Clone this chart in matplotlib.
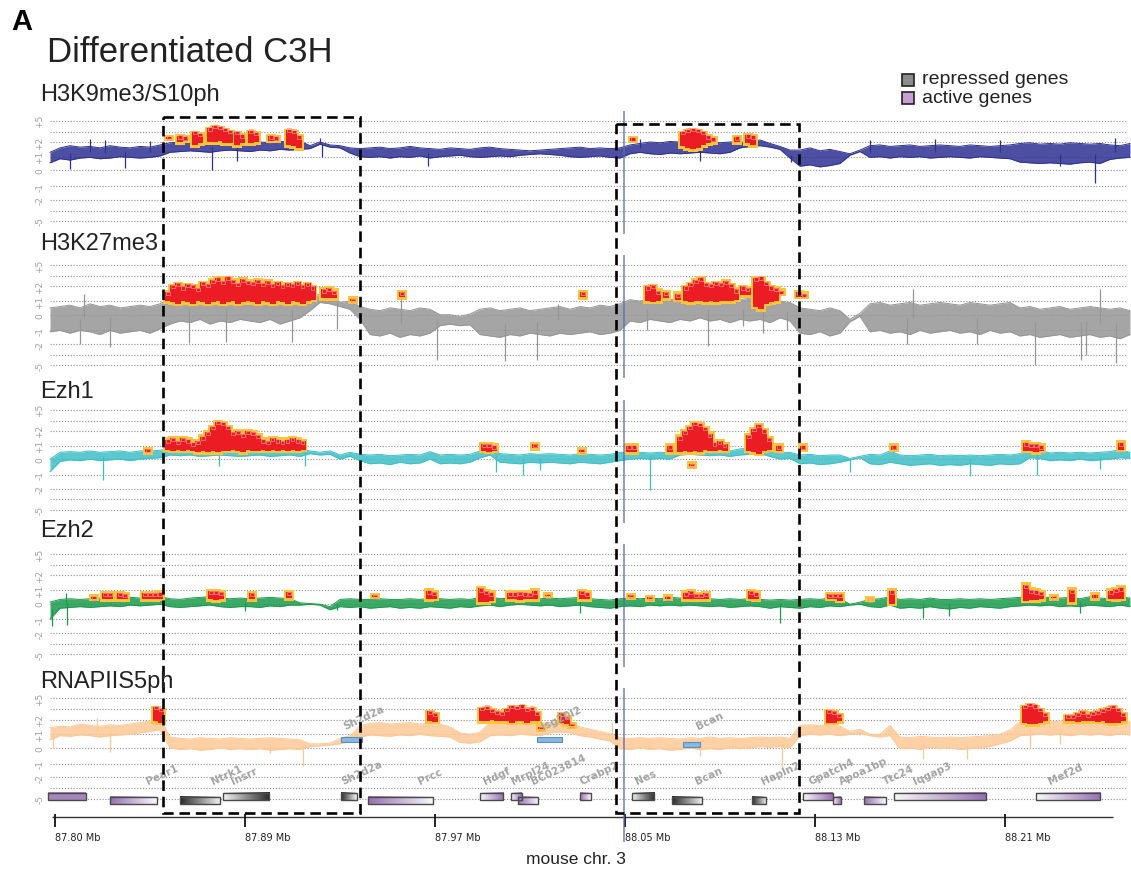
import numpy as np
import matplotlib
matplotlib.use("Agg")
import matplotlib.pyplot as plt
import matplotlib.colors as mcolors
from matplotlib.patches import Rectangle

# ---------------- data ----------------
TRACK_NAMES = ["H3K9me3/S10ph", "H3K27me3", "Ezh1", "Ezh2", "RNAPIIS5ph"]
TRACK_COLORS = ["#2e3192", "#969696", "#3dbfc6", "#1a9a4b", "#fdc896"]

# signal envelope (low / high) per 4.2 kb bin, kb from the 87.80 Mb tick
GRID_KB = np.linspace(-2.1, 452.6, 109)

K9_LO = [0.55, 0.85, 0.75, 0.9, 0.95, 0.85, 0.9, 1.0, 0.95, 0.9,
         0.95, 1.05, 1.3, 1.35, 1.4, 1.35, 1.3, 1.4, 1.45, 1.4,
         1.35, 1.45, 1.4, 1.5, 1.45, 1.5, 1.55, 1.85, 1.65, 1.6,
         1.25, 1.0, 0.95, 1.0, 0.9, 1.0, 0.95, 1.05, 0.9, 1.0,
         1.05, 1.1, 1.0, 0.95, 1.0, 1.05, 1.0, 1.1, 1.15, 1.2,
         1.15, 1.1, 1.0, 0.95, 1.0, 1.05, 0.95, 0.9, 1.2, 1.3,
         1.2, 1.15, 1.25, 1.2, 1.25, 1.3, 1.25, 1.2, 1.3, 1.6,
         1.7, 1.75, 1.65, 1.5, 0.9, 0.3, 0.4, 0.25, 0.35, 0.5,
         1.1, 1.35, 0.95, 1.0, 0.9, 1.0, 0.95, 1.0, 0.9, 0.95,
         1.0, 0.95, 0.9, 1.0, 0.95, 0.9, 0.85, 0.6, 0.55, 0.5,
         0.55, 0.5, 0.45, 0.55, 0.6, 0.5, 0.8, 0.9, 0.95]
K9_HI = [1.3, 1.6, 1.75, 1.65, 1.7, 1.6, 1.75, 1.65, 1.6, 1.7,
         1.65, 1.8, 1.95, 2.0, 2.05, 2.1, 2.0, 2.05, 2.1, 2.0,
         2.05, 2.0, 1.95, 2.05, 2.0, 2.1, 1.75, 2.0, 1.8, 1.75,
         1.6, 1.55, 1.6, 1.65, 1.55, 1.6, 1.7, 1.6, 1.55, 1.5,
         1.6, 1.55, 1.5, 1.6, 1.65, 1.55, 1.5, 1.45, 1.4, 1.45,
         1.5, 1.55, 1.6, 1.65, 1.55, 1.6, 1.55, 1.6, 1.8, 1.9,
         2.0, 1.95, 2.05, 2.0, 2.1, 2.0, 2.05, 1.95, 2.0, 2.0,
         1.95, 2.2, 1.9, 1.7, 1.45, 1.45, 1.6, 1.4, 1.5, 1.35,
         1.2, 1.45, 1.75, 1.8, 1.7, 1.75, 1.8, 1.7, 1.75, 1.8,
         1.75, 1.7, 1.8, 1.75, 1.7, 1.75, 1.8, 1.9, 1.95, 1.85,
         1.9, 1.85, 1.95, 1.9, 1.85, 1.9, 1.8, 1.75, 1.9]

K27_LO = [-1.1, -1.0, -1.2, -1.0, -1.1, -1.3, -1.0, -1.2, -1.1, -1.0,
          -1.2, -0.9, -0.6, -0.4, -0.5, -0.3, -0.6, -0.4, -0.5, -0.3,
          -0.4, -0.5, -0.3, -0.6, -0.4, -0.2, 0.3, 0.9, 0.8, 0.6,
          0.4, -0.3, -1.3, -1.4, -1.2, -1.5, -1.3, -1.4, -1.2, -0.7,
          -0.6, -0.7, -0.65, -1.3, -1.4, -1.5, -1.3, -1.4, -1.2, -1.3,
          -1.4, -1.2, -1.3, -1.2, -1.1, -1.3, -1.2, -1.0, -0.4, -0.5,
          -0.3, -0.4, -0.5, -0.3, -0.4, -0.2, -0.4, -0.3, -0.5, -0.3,
          -0.4, -0.3, -0.5, -0.2, -0.4, -1.2, -1.3, -1.1, -1.4, -1.2,
          -0.45, -0.1, -1.1, -1.0, -1.2, -1.1, -1.3, -1.0, -1.2, -1.1,
          -1.0, -1.2, -1.1, -1.3, -1.0, -1.2, -1.1, -1.4, -1.3, -1.5,
          -1.4, -1.3, -1.5, -1.4, -1.3, -1.5, -1.4, -1.6, -1.3]
K27_HI = [0.5, 0.6, 0.7, 0.5, 0.8, 0.6, 0.7, 0.5, 0.6, 0.7,
          0.6, 0.8, 1.2, 1.1, 1.3, 1.2, 1.1, 1.3, 1.2, 1.1,
          1.2, 1.3, 1.1, 1.2, 1.0, 1.1, 1.2, 1.5, 1.3, 0.9,
          1.0, 0.6, 0.4, 0.3, 0.5, 0.4, 0.3, 0.5, 0.4, 0.0,
          0.0, -0.1, 0.05, 0.4, 0.5, 0.3, 0.4, 0.5, 0.3, 0.4,
          0.5, 0.6, 0.4, 0.6, 0.5, 0.7, 0.6, 0.8, 1.1, 1.0,
          1.2, 1.0, 1.1, 1.2, 1.1, 1.0, 1.2, 1.1, 1.0, 1.1,
          1.2, 1.0, 1.1, 1.0, 0.9, 0.5, 0.4, 0.3, 0.5, 0.3,
          -0.3, 0.1, 0.8, 0.9, 0.7, 0.8, 0.9, 0.7, 0.8, 0.9,
          0.8, 0.7, 0.9, 0.8, 0.7, 0.8, 0.9, 0.5, 0.6, 0.4,
          0.5, 0.6, 0.4, 0.5, 0.6, 0.5, 0.4, 0.5, 0.3]

EZH1_LO = [-0.8, -0.15, -0.05, -0.1, 0.0, -0.1, -0.05, 0.0, -0.1, 0.0,
           0.05, 0.1, 0.3, 0.25, 0.3, 0.2, 0.25, 0.3, 0.25, 0.2,
           0.25, 0.3, 0.2, 0.25, 0.3, 0.2, 0.4, 0.3, 0.35, 0.0,
           0.2, -0.1, -0.3, -0.25, -0.35, -0.2, -0.3, -0.25, 0.0, -0.3,
           -0.25, -0.3, -0.2, 0.1, 0.3, -0.2, -0.25, -0.3, -0.2, -0.25,
           -0.2, -0.25, -0.3, -0.2, -0.25, -0.3, -0.2, -0.1, 0.0, 0.05,
           0.0, 0.05, 0.0, 0.3, 0.35, 0.3, 0.25, 0.3, 0.2, 0.3,
           0.35, 0.4, 0.2, 0.0, 0.05, -0.3, -0.25, -0.35, -0.3, -0.2,
           -0.05, 0.1, -0.3, -0.35, -0.2, -0.3, -0.4, -0.35, -0.3, -0.4,
           -0.35, -0.4, -0.3, -0.35, -0.4, -0.3, -0.35, -0.3, 0.1, 0.05,
           -0.1, -0.05, -0.1, 0.0, -0.1, -0.05, 0.0, 0.1, 0.05]
EZH1_HI = [0.0, 0.5, 0.55, 0.5, 0.6, 0.5, 0.55, 0.6, 0.5, 0.6,
           0.6, 0.65, 0.75, 0.7, 0.8, 0.75, 0.7, 0.75, 0.8, 0.7,
           0.75, 0.7, 0.8, 0.75, 0.7, 0.75, 0.6, 0.5, 0.6, 0.3,
           0.5, 0.35, 0.3, 0.35, 0.25, 0.3, 0.35, 0.3, 0.55, 0.3,
           0.35, 0.3, 0.35, 0.6, 0.9, 0.4, 0.35, 0.3, 0.4, 0.35,
           0.4, 0.35, 0.3, 0.4, 0.35, 0.3, 0.35, 0.5, 0.45, 0.5,
           0.45, 0.5, 0.45, 0.8, 0.85, 0.8, 0.75, 0.7, 0.6, 0.75,
           0.8, 0.85, 0.6, 0.45, 0.5, 0.3, 0.35, 0.25, 0.3, 0.3,
           0.05, 0.2, 0.35, 0.3, 0.6, 0.3, 0.25, 0.3, 0.35, 0.25,
           0.3, 0.25, 0.3, 0.25, 0.3, 0.35, 0.3, 0.4, 0.7, 0.65,
           0.45, 0.5, 0.45, 0.5, 0.45, 0.5, 0.55, 0.7, 0.5]

EZH2_LO = [-1.0, -0.3, -0.25, -0.2, -0.25, -0.2, -0.15, -0.2, -0.1, -0.15,
           -0.1, -0.05, -0.2, -0.25, -0.2, -0.15, -0.1, -0.2, -0.25, -0.2,
           -0.2, -0.25, -0.15, -0.2, -0.1, -0.1, -0.05, -0.1, -0.4, -0.2,
           -0.25, -0.2, -0.3, -0.25, -0.2, -0.3, -0.25, -0.3, -0.2, -0.25,
           -0.3, -0.2, -0.25, -0.15, -0.1, -0.2, -0.1, -0.05, -0.1, -0.15,
           -0.1, -0.2, -0.15, -0.1, -0.2, -0.25, -0.3, -0.2, -0.15, -0.2,
           -0.1, -0.15, -0.1, -0.15, -0.1, -0.15, -0.2, -0.15, -0.25, -0.2,
           -0.15, -0.2, -0.3, -0.2, -0.25, -0.3, -0.2, -0.25, -0.15, -0.2,
           -0.1, -0.05, -0.2, -0.25, -0.1, -0.3, -0.25, -0.3, -0.2, -0.3,
           -0.35, -0.25, -0.3, -0.2, -0.25, -0.3, -0.2, -0.15, -0.1, -0.15,
           -0.1, -0.2, -0.15, -0.2, -0.1, -0.15, -0.2, -0.1, -0.2]
EZH2_HI = [0.1, 0.3, 0.35, 0.3, 0.35, 0.4, 0.35, 0.4, 0.45, 0.4,
           0.45, 0.5, 0.35, 0.3, 0.4, 0.45, 0.5, 0.4, 0.35, 0.4,
           0.35, 0.4, 0.45, 0.4, 0.35, 0.05, 0.0, -0.05, -0.2, 0.3,
           0.35, 0.3, 0.3, 0.35, 0.3, 0.3, 0.35, 0.3, 0.4, 0.35,
           0.3, 0.35, 0.3, 0.45, 0.5, 0.35, 0.4, 0.45, 0.4, 0.35,
           0.4, 0.35, 0.4, 0.45, 0.35, 0.3, 0.25, 0.35, 0.4, 0.35,
           0.4, 0.35, 0.45, 0.4, 0.45, 0.4, 0.35, 0.3, 0.35, 0.3,
           0.35, 0.3, 0.25, 0.3, 0.25, 0.3, 0.35, 0.3, 0.4, 0.35,
           -0.05, 0.1, 0.3, 0.35, 0.5, 0.3, 0.35, 0.3, 0.4, 0.3,
           0.3, 0.35, 0.3, 0.35, 0.3, 0.35, 0.4, 0.45, 0.5, 0.45,
           0.45, 0.4, 0.45, 0.35, 0.5, 0.4, 0.35, 0.5, 0.4]

POL2_LO = [0.6, 0.9, 0.85, 0.95, 0.9, 0.8, 0.9, 0.95, 1.0, 1.1,
           1.2, 1.3, 0.0, -0.1, -0.05, -0.15, -0.1, 0.0, -0.1, -0.05,
           -0.1, -0.05, -0.15, -0.1, -0.05, -0.1, 0.1, 0.15, 0.2, 0.3,
           0.5, 0.8, 0.95, 0.9, 0.85, 0.95, 0.9, 1.0, 0.9, 0.85,
           0.8, 0.4, 0.35, 0.45, 0.9, 0.95, 0.9, 1.0, 0.95, 0.9,
           1.1, 1.15, 1.1, 0.9, 0.8, 0.65, 0.5, -0.05, -0.1, 0.0,
           -0.1, -0.05, -0.15, -0.1, 0.0, -0.1, -0.05, -0.1, 0.0, -0.05,
           0.0, 0.1, 0.05, 0.1, 0.0, 0.9, 1.0, 0.95, 1.0, 0.9,
           1.0, 1.05, 0.9, 0.8, 0.9, -0.05, 0.0, -0.1, 0.05, -0.05,
           0.0, -0.1, -0.05, 0.0, 0.1, 0.3, 0.5, 0.9, 0.95, 1.0,
           0.95, 1.0, 0.9, 1.0, 0.95, 1.0, 0.9, 1.05, 0.95]
POL2_HI = [1.45, 1.55, 1.5, 1.7, 1.6, 1.55, 1.65, 1.6, 1.7, 1.8,
           1.9, 2.1, 0.8, 0.7, 0.65, 0.75, 0.7, 0.65, 0.75, 0.7,
           0.65, 0.7, 0.75, 0.7, 0.65, 0.6, 0.3, 0.3, 0.35, 0.7,
           0.9, 1.6, 1.75, 1.8, 1.7, 1.75, 1.8, 1.7, 1.75, 1.7,
           1.5, 1.1, 1.0, 1.15, 1.8, 1.75, 1.8, 1.85, 1.8, 1.75,
           1.8, 1.85, 1.8, 1.5, 1.35, 1.2, 1.05, 0.75, 0.7, 0.75,
           0.7, 0.75, 0.7, 0.65, 0.75, 0.7, 0.8, 0.7, 0.75, 0.7,
           0.75, 0.8, 0.75, 0.8, 0.7, 1.6, 1.65, 1.6, 1.7, 1.55,
           1.2, 1.35, 1.0, 1.0, 1.6, 0.8, 0.75, 0.85, 0.8, 0.75,
           0.8, 0.75, 0.8, 0.85, 0.9, 1.0, 1.3, 1.85, 1.9, 1.85,
           1.9, 1.85, 1.9, 1.95, 1.85, 1.9, 1.95, 1.9, 1.85]

# single-probe excursions (kb, value)
K9_SPIKES = [(6.3, 0.1), (14.7, 2.3), (21.1, 2.2), (29.5, 0.2), (40.0, 2.1),
             (66.1, 0.0), (76.6, 0.7), (111.6, 2.4), (112.5, 1.0), (157.0, 0.3),
             (246.3, 2.3), (271.6, 0.7), (309.9, 0.6), (343.2, 2.2), (370.5, 2.3),
             (397.9, 2.2), (423.2, 0.3), (437.8, -0.8), (446.3, 2.4)]
K27_SPIKES = [(10.5, -2.0), (12.2, 1.5), (23.2, -2.3), (56.4, -1.9), (72.0, -1.8),
              (99.8, -1.8), (118.7, -0.9), (145.7, 1.5), (160.8, -4.0), (189.5, -4.2),
              (202.9, -4.0), (211.8, 0.8), (249.2, -1.0), (274.9, -2.2), (289.6, -0.7),
              (298.1, -1.2), (308.2, -1.0), (358.7, -2.0), (361.2, 1.8), (388.2, -2.0),
              (412.6, -5.0), (432.0, -4.0), (434.1, -3.0), (440.0, 1.8), (446.7, -4.5)]
EZH1_SPIKES = [(20.2, -1.4), (69.0, -0.45), (105.3, -0.45), (185.7, -0.8), (197.0, -1.0),
               (204.2, -0.7), (250.5, -2.1), (334.7, -0.8), (385.2, -1.1), (413.4, -1.0),
               (440.0, -0.6)]
EZH2_SPIKES = [(-1.3, -1.5), (4.6, 0.75), (5.1, -1.4), (80.0, -0.5), (118.7, -0.4),
               (221.1, -0.6), (305.2, -1.3), (365.4, -0.9), (376.4, -0.8), (431.6, -0.6)]
POL2_SPIKES = [(-0.8, 0.0), (17.7, 2.2), (23.2, -0.25), (90.5, -0.3), (104.4, -1.2),
               (234.5, 1.85), (271.6, -0.5), (306.1, -1.4), (365.4, -0.7), (384.0, -0.7),
               (410.5, 0.0), (423.2, 0.3)]

# enriched probes: (first probe kb, low values, high values), probes 2.1 kb apart
K9_PEAKS = [(48.0, [2.3], [2.5]),
            (52.6, [2.0, 2.1], [2.6, 2.5]),
            (58.9, [1.8, 1.9], [3.0, 2.8]),
            (65.3, [2.0, 2.0, 2.1, 1.9, 1.9], [3.6, 4.0, 3.9, 3.5, 3.1]),
            (76.6, [1.8, 1.9], [3.0, 2.7]),
            (82.5, [1.9, 2.0], [3.2, 2.9]),
            (90.9, [2.1, 2.1], [2.6, 2.5]),
            (98.5, [1.8, 1.7, 1.6], [3.4, 3.2, 2.6]),
            (243.3, [2.1], [2.4]),
            (264.4, [1.7, 1.6, 1.5, 1.6, 1.8, 1.9, 2.0], [3.0, 3.4, 3.5, 3.3, 3.0, 2.6, 2.4]),
            (287.1, [2.0], [2.5]),
            (291.8, [1.9, 1.8], [2.7, 2.6])]
K27_PEAKS = [(47.6, [1.0, 0.9, 0.8, 1.0, 0.9, 0.8, 1.0, 0.9, 0.8, 0.9,
                     1.0, 0.8, 0.9, 1.0, 0.8, 0.9, 1.0, 0.9, 0.8, 1.0,
                     0.9, 0.8, 1.0, 0.9, 0.8, 1.0, 0.9, 0.8, 1.0, 1.1],
              [1.6, 2.1, 2.3, 2.0, 2.2, 2.1, 1.9, 2.4, 2.2, 2.6,
               2.8, 2.5, 2.9, 2.6, 2.3, 2.7, 2.5, 2.4, 2.6, 2.3,
               2.5, 2.2, 2.4, 2.1, 2.3, 2.2, 2.4, 2.1, 2.3, 2.0]),
             (113.2, [1.2, 1.2, 1.2], [1.8, 1.9, 1.7]),
             (125.5, [1.0], [1.15]),
             (146.1, [1.25], [1.6]),
             (222.3, [1.25], [1.6]),
             (249.7, [1.0, 0.95, 1.0], [2.0, 2.1, 1.7]),
             (257.2, [1.2], [1.6]),
             (262.3, [1.1], [1.5]),
             (265.7, [1.0, 0.9, 1.0, 1.0, 0.9, 1.0, 0.9, 1.0, 1.0, 1.0, 1.1],
              [2.0, 2.3, 2.6, 2.8, 2.3, 2.2, 2.4, 2.3, 2.5, 2.2, 1.8]),
             (289.6, [1.4, 1.4], [2.0, 1.9]),
             (295.1, [0.6, 0.4, 0.8, 0.9, 1.0], [2.8, 2.9, 2.4, 2.0, 1.9]),
             (305.6, [1.5], [1.7]),
             (313.2, [1.3, 1.3], [1.6, 1.5])]
EZH1_PEAKS = [(39.2, [0.5], [0.75]),
              (47.6, [0.7, 0.6, 0.7, 0.6, 0.7, 0.6, 0.5, 0.6, 0.5, 0.6,
                      0.5, 0.6, 0.6, 0.7, 0.6, 0.5, 0.7, 0.6, 0.6, 0.7,
                      0.6, 0.7, 0.6, 0.7, 0.6, 0.7, 0.6, 0.7],
               [1.4, 1.5, 1.3, 1.5, 1.4, 1.2, 1.3, 1.6, 1.9, 2.4,
                2.9, 2.8, 2.4, 1.9, 2.0, 1.8, 2.0, 1.9, 1.7, 1.4,
                1.3, 1.5, 1.4, 1.3, 1.4, 1.5, 1.4, 1.3]),
              (180.6, [0.6, 0.55, 0.6], [1.1, 1.1, 1.0]),
              (202.1, [0.8], [1.1]),
              (221.9, [0.5], [0.7]),
              (241.7, [0.5, 0.5], [1.0, 1.0]),
              (258.9, [0.5], [1.0]),
              (263.1, [0.5, 0.6, 0.5, 0.6, 0.5, 0.7, 0.6, 0.6, 0.7, 0.6],
               [1.6, 2.0, 2.4, 2.8, 2.7, 2.3, 1.8, 1.2, 1.3, 1.1]),
              (268.2, [-0.45], [-0.3]),
              (292.2, [0.6, 0.5, 0.4, 0.6, 0.7], [1.7, 2.2, 2.6, 2.1, 1.5]),
              (304.8, [0.6], [1.0]),
              (314.9, [0.7], [1.0]),
              (353.2, [0.7], [1.0]),
              (408.8, [0.6, 0.6, 0.5, 0.6], [1.2, 1.1, 1.1, 1.0]),
              (448.8, [0.7], [1.2])]
EZH2_PEAKS = [(16.4, [0.35], [0.5]),
              (21.1, [0.3, 0.3], [0.75, 0.75]),
              (27.4, [0.3, 0.3], [0.75, 0.7]),
              (37.9, [0.3, 0.3, 0.3, 0.35], [0.75, 0.75, 0.75, 0.8]),
              (65.7, [0.3, 0.25, 0.3], [0.9, 0.9, 0.85]),
              (82.9, [0.3], [0.75]),
              (98.5, [0.4], [0.85]),
              (134.7, [0.5], [0.6]),
              (157.5, [0.3, 0.35], [0.95, 0.85]),
              (179.3, [0.1, 0.1, 0.2], [1.1, 0.9, 0.8]),
              (191.6, [0.3, 0.3, 0.25, 0.3, 0.3, 0.3], [0.8, 0.8, 0.85, 0.8, 0.75, 0.95]),
              (207.6, [0.55], [0.65]),
              (221.9, [0.3, 0.3], [0.9, 0.8]),
              (242.5, [0.45], [0.6]),
              (250.5, [0.3], [0.45]),
              (258.1, [0.35], [0.5]),
              (265.7, [0.3, 0.35, 0.3, 0.3, 0.3], [0.8, 0.9, 0.7, 0.7, 0.75]),
              (293.0, [0.35, 0.3], [0.9, 0.8]),
              (326.3, [0.35, 0.35, 0.2], [0.7, 0.7, 0.7]),
              (343.1, [0.3], [0.35]),
              (352.4, [0.0], [0.95]),
              (408.8, [0.2, 0.25, 0.25, 0.3], [1.35, 1.0, 0.95, 0.85]),
              (420.6, [0.4], [0.5]),
              (428.2, [0.1], [1.0]),
              (437.8, [0.4], [0.65]),
              (444.6, [0.35, 0.3, 0.35], [0.95, 1.05, 1.15])]
POL2_PEAKS = [(42.5, [1.9, 1.8], [3.4, 3.1]),
              (157.9, [1.9, 1.85], [2.8, 2.6]),
              (179.8, [1.9, 1.9, 2.0, 1.9, 1.9, 1.9, 1.8, 1.9, 1.9, 1.8, 1.9, 1.9],
               [3.2, 3.5, 3.0, 2.8, 2.7, 3.1, 3.6, 3.4, 3.7, 3.1, 3.3, 2.7]),
              (204.6, [1.35], [1.5]),
              (213.4, [1.8, 1.7, 1.55], [2.6, 2.3, 1.7]),
              (325.9, [1.8, 1.8, 1.9], [2.9, 2.8, 2.5]),
              (408.4, [1.8, 1.7, 1.7, 1.8, 1.9], [3.6, 4.0, 3.7, 3.1, 2.6]),
              (426.5, [1.9, 1.9, 1.85, 1.9, 1.9, 1.9, 1.85, 1.9, 1.8, 1.75, 1.8, 1.9],
               [2.4, 2.4, 2.6, 2.8, 2.5, 2.7, 2.8, 3.0, 3.3, 3.6, 3.1, 2.6])]

SIGNALS = [(K9_LO, K9_HI, K9_SPIKES, K9_PEAKS),
           (K27_LO, K27_HI, K27_SPIKES, K27_PEAKS),
           (EZH1_LO, EZH1_HI, EZH1_SPIKES, EZH1_PEAKS),
           (EZH2_LO, EZH2_HI, EZH2_SPIKES, EZH2_PEAKS),
           (POL2_LO, POL2_HI, POL2_SPIKES, POL2_PEAKS)]

# gene annotation (kb)
GENE_NAMES = ["", "Pear1", "Ntrk1", "Insrr", "Sh2d2a", "Prcc", "Hdgf", "Mrpl24", "BC023814",
              "Crabp2", "Nes", "Bcan", "Hapln2", "Gpatch4", "Apoa1bp", "Ttc24", "Iqgap3", "Mef2d"]
GENE_START = [-2.8, 23.2, 52.6, 70.6, 120.3, 131.9, 178.9, 192.0, 194.8,
              221.0, 243.0, 259.6, 293.3, 315.0, 327.6, 340.7, 353.3, 412.9]
GENE_END = [12.9, 42.9, 69.5, 90.2, 127.0, 159.3, 188.7, 196.5, 203.5,
            225.5, 252.3, 272.5, 299.3, 327.6, 330.8, 349.9, 392.0, 440.2]
GENE_ACTIVE = [1, 1, 0, 0, 0, 1, 1, 1, 1, 1, 0, 0, 0, 1, 1, 1, 1, 1]
GENE_STRAND = [0, 1, 1, -1, 1, 1, -1, -1, 1, 1, -1, 1, 1, -1, -1, 1, -1, -1]
GENE_ROW = [0, 1, 1, 0, 0, 1, 0, 0, 1, 0, 0, 1, 1, 0, 1, 1, 0, 0]
GENE_LABEL_KB = [0, 39.2, 66.5, 74.9, 121.2, 153.7, 181.0, 192.8, 201.2,
                 221.9, 245.0, 270.3, 298.1, 318.1, 330.8, 349.3, 362.0, 418.8]

UP_NAMES = ["Sh2d2a", "Isg20l2", "Bcan"]
UP_START = [120.3, 203.0, 264.3]
UP_END = [129.4, 213.3, 271.5]
UP_ROW = [0, 0, 1]
UP_LABEL_KB = [122.1, 205.4, 270.7]

TICK_KB = [0, 80, 160, 240, 320, 400]
TICK_LABELS = ["87.80 Mb", "87.89 Mb", "87.97 Mb", "88.05 Mb", "88.13 Mb", "88.21 Mb"]

BOX_KB = [(45.5, 128.4), (236.2, 313.3)]
TSS_KB = 239.6

# ---------------- layout ----------------
W, H = 1131, 870
KB_PER_PX = 80 / 190
XLIM = (-55 * KB_PER_PX, (W - 55) * KB_PER_PX)
Y_TOP = [121.7, 266.1, 410.5, 554.9, 699.3]
TITLE_Y = [95, 244, 392, 531, 682]
PROBE_STEP = 2.1
LEVELS = [-5, -3, -2, -1, 0, 1, 2, 3, 5]
LEVEL_LABELS = {5: "+5", 2: "+2", 1: "+1", 0: "0", -1: "-1", -2: "-2", -5: "-5"}
LV = [-30, -5, -3, -2, -1, 0, 1, 2, 3, 5, 30]
PV = [-132.5, 0, 10.5, 21.1, 35.0, 50.7, 64.3, 79.0, 89.3, 100.3, 232.8]
RED, YELLOW = "#ec1c24", "#f9c43a"


def fwd(v):
    return np.interp(v, LV, PV)


def inv(p):
    return np.interp(p, PV, LV)


fig = plt.figure(figsize=(W / 100, H / 100), dpi=100)

for i, (name, color) in enumerate(zip(TRACK_NAMES, TRACK_COLORS)):
    lo, hi, spikes, peaks = SIGNALS[i]
    lo = np.array(lo)
    hi = np.array(hi)
    top = Y_TOP[i] - 30
    height = 100.3 + 25 + 30
    ax = fig.add_axes([0, 1 - (top + height) / H, 1, height / H])
    ax.set_yscale("function", functions=(fwd, inv))
    ax.set_xlim(XLIM)
    ax.set_ylim(inv(-25), inv(130.3))
    ax.axis("off")

    ax.hlines(LEVELS, -2.1, 451.4, colors="#8c8c8c", lw=0.8,
              linestyles=(0, (1, 1.6)), zorder=1)
    for lv, lab in LEVEL_LABELS.items():
        ax.text(-6.3, lv, lab, rotation=90, ha="center", va="center",
                fontsize=6.5, color="#a0a0a0")

    # noisy probe signal: filled envelope with ragged edges and single spikes
    ax.fill_between(GRID_KB, lo, hi, color=color, alpha=0.85, lw=0, zorder=2)
    ax.plot(GRID_KB, lo, color=color, lw=0.7, zorder=2)
    ax.plot(GRID_KB, hi, color=color, lw=0.7, zorder=2)
    sx = np.array([s[0] for s in spikes])
    sv = np.array([s[1] for s in spikes])
    base = np.interp(sx, GRID_KB, (lo + hi) / 2)
    ax.vlines(sx, base, sv, color=color, lw=0.9, zorder=2)

    for start, plo, phi in peaks:
        plo = np.array(plo)
        phi = np.array(phi)
        px = start + PROBE_STEP * np.arange(len(plo))
        ax.bar(px, phi - plo + 0.35, bottom=plo - 0.18, width=4.0,
               color=YELLOW, lw=0, zorder=3)
        ax.bar(px, phi - plo, bottom=plo, width=2.4, color=RED, lw=0, zorder=4)
        ax.scatter(px, phi - 0.1, marker="s", s=6, facecolor="none",
                   edgecolor="#ff8f86", lw=0.5, zorder=5)

    fig.text(40 / W, 1 - TITLE_Y[i] / H, name, fontsize=17, color="#222222",
             family="Liberation Sans", va="center", ha="left")

# overlay: boxes, genes, ruler
ov = fig.add_axes([0, 0, 1, 1])
ov.set_xlim(XLIM)
ov.set_ylim(H, 0)
ov.set_autoscale_on(False)
ov.axis("off")

for (x0, x1), ytop in zip(BOX_KB, [118.3, 124.5]):
    ov.add_patch(Rectangle((x0, ytop), x1 - x0, 814 - ytop, fill=False, ec="black",
                           lw=1.9, linestyle=(0, (4, 2.2)), zorder=6))

for i, yt in enumerate(Y_TOP):
    y_end = 843 if i == 4 else yt + 113
    ov.vlines(TSS_KB, yt - 10, y_end, color="#5468c0", lw=1.1, alpha=0.85, zorder=5)

ROW_Y = {0: 797.3, 1: 801.8}
for name, s, e, act, strand, row, lab in zip(GENE_NAMES, GENE_START, GENE_END, GENE_ACTIVE,
                                             GENE_STRAND, GENE_ROW, GENE_LABEL_KB):
    base_col = np.array(mcolors.to_rgb("#9671b0" if act else "#2b2b2b"))
    t = np.linspace(0, 1, 64)
    if strand == 1:
        w = t * 0.95
    elif strand == -1:
        w = (1 - t) * 0.95
    else:
        w = np.full_like(t, 0.15)
    img = base_col[None, :] * (1 - w[:, None]) + w[:, None]
    yc = ROW_Y[row]
    ov.imshow(img[None], extent=(s, e, yc + 3.6, yc - 3.6), aspect="auto",
              interpolation="bilinear", zorder=3)
    ov.add_patch(Rectangle((s, yc - 3.6), e - s, 7.2, fill=False,
                           ec="#4a4a4a", lw=1.0, zorder=4))
    if name:
        ov.text(lab, 785, name, rotation=25, rotation_mode="anchor", ha="left",
                va="baseline", fontsize=7.5, fontweight="bold", color="#a3a3a3", zorder=4)

UP_ROW_Y = {0: 740.3, 1: 745.0}
for name, s, e, row, lab in zip(UP_NAMES, UP_START, UP_END, UP_ROW, UP_LABEL_KB):
    yc = UP_ROW_Y[row]
    ov.add_patch(Rectangle((s, yc - 2.5), e - s, 5, fc="#86b9e2", ec="#5d8fba",
                           lw=0.8, zorder=4))
    ov.text(lab, 730, name, rotation=25, rotation_mode="anchor", ha="left",
            va="baseline", fontsize=7.5, fontweight="bold", color="#a3a3a3", zorder=4)

ov.hlines(818.3, -1.4, 445.3, color="#333333", lw=1.0)
ov.vlines(TICK_KB, 815, 828, color="#222222", lw=1.4)
for kb, lab in zip(TICK_KB, TICK_LABELS):
    ov.text(kb, 838, lab, ha="left", va="center", fontsize=7, color="#222222",
            family="DejaVu Sans")

fig.text(576 / W, 1 - 860 / H, "mouse chr. 3", ha="center", va="center",
         fontsize=12.5, color="#222222", family="Liberation Sans")

# titles and legend
fig.text(11 / W, 1 - 22 / H, "A", fontsize=21, fontweight="bold", va="center",
         ha="left", family="Liberation Sans")
fig.text(47 / W, 1 - 52 / H, "Differentiated C3H", fontsize=25, va="center",
         ha="left", family="Liberation Sans", color="#222222")

for yc, fc, lab in [(80.5, "#8c8c8c", "repressed genes"), (99.0, "#c69ed5", "active genes")]:
    fig.add_artist(Rectangle((902 / W, 1 - (yc + 6) / H), 12 / W, 12 / H, fc=fc,
                             ec="#222222", lw=1.2, transform=fig.transFigure))
    fig.text(922 / W, 1 - (yc - 0.5) / H, lab, fontsize=14, va="center", ha="left",
             family="Liberation Sans", color="#222222")

fig.savefig("out.png", dpi=100)
